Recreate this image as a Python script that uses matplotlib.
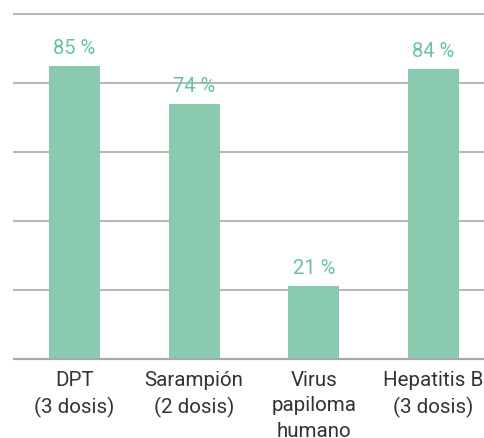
import matplotlib
matplotlib.use("Agg")
import matplotlib.pyplot as plt

categories = ["DPT\n(3 dosis)", "Sarampión\n(2 dosis)", "Virus\npapiloma\nhumano", "Hepatitis B\n(3 dosis)"]
values = [85, 74, 21, 84]
value_labels = ["85 %", "74 %", "21 %", "84 %"]

plt.rcParams['font.family'] = ['Roboto', 'DejaVu Sans']

fig = plt.figure(figsize=(4.84, 4.38), dpi=100)
ax = fig.add_axes([14/484, 1-358.5/438, 470/484, (358.5-14)/438])

bar_color = "#8acbb0"
text_color = "#6cc29d"
x = list(range(len(categories)))
bars = ax.bar(x, values, width=0.426, color=bar_color, zorder=3)

for xi, v, lab in zip(x, values, value_labels):
    ax.annotate(lab, (xi, v), xytext=(0, 8), textcoords="offset pixels",
                ha="center", va="bottom", fontsize=14.5, color=text_color)

ax.set_xlim(-0.5056, 3.422)
ax.set_ylim(0, 100)
ax.set_yticks([0, 20, 40, 60, 80, 100])
ax.yaxis.grid(True, color="#b8b8b8", linewidth=1.5, zorder=0)
for gl in ax.yaxis.get_gridlines():
    gl.set_clip_on(False)
ax.tick_params(axis="y", length=0, labelleft=False)
ax.set_xticks(x)
ax.set_xticklabels(categories, fontsize=14.8, color="#333333", linespacing=1.42, va="top")
ax.tick_params(axis="x", length=0, pad=9)
for s in ["top", "right", "left"]:
    ax.spines[s].set_visible(False)
ax.spines["bottom"].set_color("#a8a8a8")
ax.spines["bottom"].set_linewidth(1.5)
ax.spines["bottom"].set_zorder(4)

fig.savefig("out.png", dpi=100)
